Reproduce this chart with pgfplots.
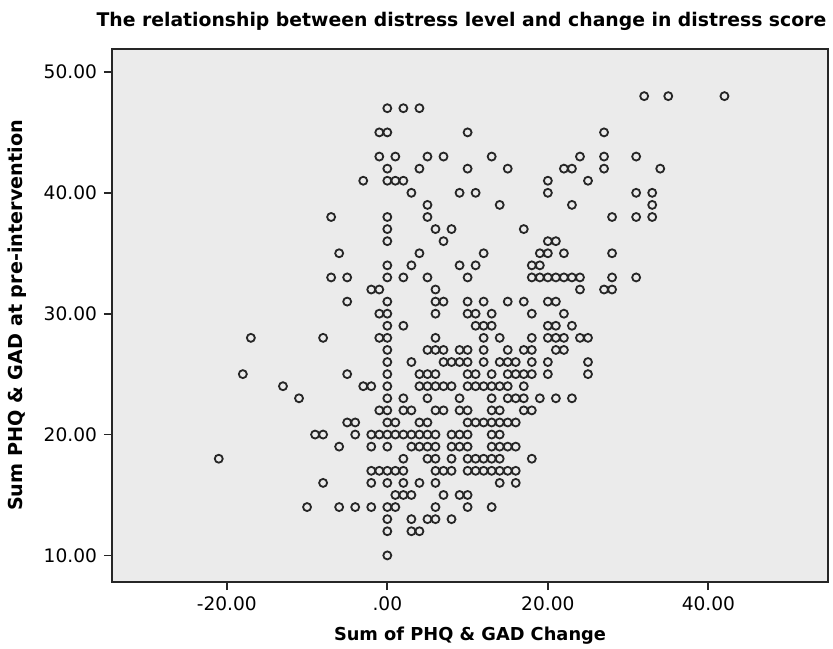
\documentclass[border=0pt]{standalone}
\usepackage{fontspec}
\setmainfont{DejaVu Sans}
\usepackage{pgfplots}
\pgfplotsset{compat=1.18}
\definecolor{panel}{RGB}{235,235,235}
\definecolor{ring}{RGB}{38,38,38}

\begin{document}
\begin{tikzpicture}
\path[use as bounding box] (-56pt,-33pt) rectangle (360.5pt,291pt);
\begin{axis}[
  scale only axis,
  width=358pt, height=266.5pt,
  xmin=-34.3, xmax=54.9, ymin=7.8, ymax=51.9,
  axis background/.style={fill=panel},
  axis line style={line width=0.9pt, black!85},
  xtick={-20,0,20,40}, xticklabels={-20.00,.00,20.00,40.00},
  ytick={10,20,30,40,50}, yticklabels={10.00,20.00,30.00,40.00,50.00},
  tick align=outside, xtick pos=left, ytick pos=left,
  major tick length=4pt,
  tick style={line width=0.9pt, black!85},
  tick label style={font=\fontsize{9.3}{11}\selectfont},
  title={The relationship between distress level and change in distress score},
  title style={font=\bfseries\fontsize{9.4}{11}\selectfont, at={(0.488,1.030)}, anchor=center, yshift=0pt},
  xlabel={Sum of PHQ \& GAD Change},
  xlabel style={font=\bfseries\fontsize{8.9}{11}\selectfont, at={(0.5,-0.1013)}, anchor=center},
  ylabel={Sum PHQ \& GAD at pre-intervention},
  ylabel style={font=\bfseries\fontsize{9.6}{11}\selectfont, at={(-0.1327,0.5)}, anchor=center},
]
\addplot[only marks, mark=o, mark size=2pt, draw=ring, mark options={line width=0.9pt}] table {
x y
0 47
-1 45
0 45
-1 43
0 42
-3 41
0 41
-7 38
0 38
0 37
0 36
-6 35
0 34
-7 33
-5 33
0 33
-2 32
-1 32
-5 31
2 47
4 47
10 45
1 43
5 43
7 43
13 43
4 42
10 42
15 42
1 41
2 41
20 41
3 40
9 40
11 40
20 40
5 39
14 39
5 38
6 37
8 37
17 37
7 36
20 36
21 36
4 35
12 35
19 35
20 35
3 34
9 34
11 34
18 34
19 34
2 33
5 33
10 33
18 33
19 33
20 33
21 33
6 32
32 48
35 48
42 48
27 45
24 43
27 43
31 43
22 42
23 42
27 42
34 42
25 41
31 40
33 40
23 39
33 39
28 38
31 38
33 38
22 35
28 35
22 33
23 33
24 33
28 33
31 33
24 32
27 32
28 32
-17 28
-8 28
-18 25
-13 24
-11 23
-9 20
-8 20
-21 18
-8 16
-10 14
0 31
-1 30
0 30
0 29
2 29
-1 28
0 28
0 27
0 26
3 26
-5 25
0 25
-3 24
-2 24
0 24
0 23
2 23
-1 22
0 22
2 22
3 22
-5 21
-4 21
0 21
1 21
6 31
7 31
10 31
12 31
15 31
6 30
10 30
11 30
13 30
11 29
12 29
13 29
6 28
12 28
14 28
5 27
6 27
7 27
9 27
10 27
12 27
15 27
7 26
8 26
9 26
10 26
12 26
14 26
4 25
5 25
6 25
10 25
11 25
13 25
15 25
4 24
5 24
6 24
7 24
8 24
10 24
11 24
12 24
13 24
14 24
5 23
9 23
13 23
6 22
7 22
9 22
10 22
13 22
14 22
4 21
5 21
10 21
11 21
12 21
13 21
14 21
17 31
20 31
21 31
18 30
22 30
20 29
21 29
23 29
18 28
20 28
21 28
22 28
24 28
25 28
17 27
18 27
21 27
22 27
15 26
16 26
18 26
20 26
25 26
16 25
17 25
18 25
20 25
25 25
15 24
17 24
15 23
16 23
17 23
19 23
21 23
23 23
17 22
18 22
15 21
16 21
-4 20
-2 20
-1 20
0 20
1 20
2 20
3 20
-6 19
-2 19
0 19
3 19
4 19
2 18
-2 17
-1 17
0 17
1 17
2 17
-2 16
0 16
2 16
4 16
1 15
2 15
3 15
-6 14
-4 14
-2 14
0 14
1 14
0 13
3 13
0 12
3 12
4 12
0 10
4 20
5 20
6 20
8 20
9 20
10 20
13 20
14 20
5 19
6 19
8 19
9 19
10 19
13 19
14 19
15 19
5 18
6 18
8 18
10 18
11 18
12 18
13 18
14 18
6 17
7 17
8 17
10 17
11 17
12 17
13 17
14 17
15 17
6 16
14 16
7 15
9 15
10 15
6 14
10 14
13 14
5 13
6 13
8 13
16 19
18 18
16 17
16 16
};
\end{axis}
\end{tikzpicture}
\end{document}
